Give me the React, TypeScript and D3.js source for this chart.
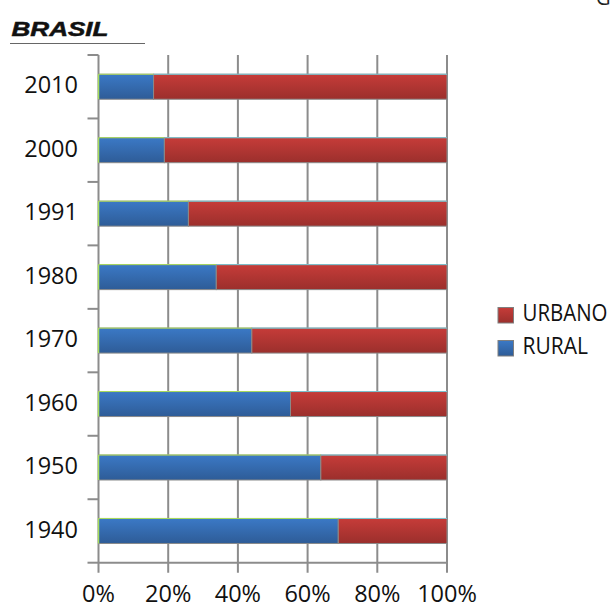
import React from 'react';
import * as d3 from 'd3';

// dados (% da população)
const years = ['2010', '2000', '1991', '1980', '1970', '1960', '1950', '1940'];
const rural = [15.8, 18.9, 25.8, 33.8, 44.0, 55.1, 63.8, 68.8];
const urbano = [84.2, 81.1, 74.2, 66.2, 56.0, 44.9, 36.2, 31.2];
const xTicks = [0, 20, 40, 60, 80, 100];
const legendItems = [
  { label: 'URBANO', grad: 'gradRed', len: 85 },
  { label: 'RURAL', grad: 'gradBlue', len: 65.5 },
];

const W = 614;
const H = 603;
const top = 55;
const bottom = 562.7;
const left = 98.5;
const right = 447;

const FONT = "'Open Sans', sans-serif";

export default function App() {
  const x = d3.scaleLinear().domain([0, 100]).range([left, right]);
  const y = d3.scaleBand().domain(years).range([top, bottom]).padding(0);
  const barH = 25;
  const gridColor = '#8c8c8c';

  const rows = years.map((yr, i) => {
    const cy = (y(yr) as number) + y.bandwidth() / 2;
    return { yr, cy, r: rural[i], u: urbano[i] };
  });

  return (
    <svg
      width={W}
      height={H}
      style={{ position: 'absolute', left: 0, top: 0, background: '#fff' }}
    >
      <defs>
        <linearGradient id="gradBlue" x1="0" y1="0" x2="0" y2="1">
          <stop offset="0" stopColor="#3b79c6" />
          <stop offset="1" stopColor="#2e5c97" />
        </linearGradient>
        <linearGradient id="gradRed" x1="0" y1="0" x2="0" y2="1">
          <stop offset="0" stopColor="#c63c39" />
          <stop offset="1" stopColor="#9b2f2c" />
        </linearGradient>
      </defs>

      {/* título */}
      <text x={11.5} y={36.3} fontFamily="'Liberation Sans', Arial, sans-serif" fontWeight="bold"
        fontStyle="italic" fontSize={20.5} textLength={97} lengthAdjust="spacingAndGlyphs"
        fill="#111" stroke="#111" strokeWidth={0.5}>
        BRASIL
      </text>
      <line x1={10} x2={145} y1={43.5} y2={43.5} stroke="#666" strokeWidth={1.2} />
      <text x={596} y={5} fontFamily={FONT} fontSize={20} fill="#222">G</text>

      {/* grade vertical */}
      {xTicks.map(t => (
        <g key={t}>
          <line x1={x(t)} x2={x(t)} y1={top} y2={bottom + 10} stroke={gridColor} strokeWidth={2} />
          <text x={x(t)} y={601.5} textAnchor="middle" fontFamily={FONT} fontSize={23.5} fill="#111">
            {t}%
          </text>
        </g>
      ))}

      {/* eixo */}
      <line x1={left} x2={right} y1={bottom} y2={bottom} stroke={gridColor} strokeWidth={2} />
      {[...years.map(yr => y(yr) as number), bottom].map((ty, i) => (
        <line key={i} x1={left - 11} x2={left} y1={ty} y2={ty} stroke={gridColor} strokeWidth={2} />
      ))}

      {/* barras */}
      {rows.map(d => (
        <g key={d.yr}>
          <rect x={x(0)} y={d.cy - barH / 2} width={x(d.r) - x(0)} height={barH}
            fill="url(#gradBlue)" stroke="#8a8a8a" strokeWidth={1} />
          <rect x={x(d.r)} y={d.cy - barH / 2} width={x(d.r + d.u) - x(d.r)} height={barH}
            fill="url(#gradRed)" stroke="#8a8a8a" strokeWidth={1} />
          <line x1={x(0)} x2={x(d.r)} y1={d.cy - barH / 2} y2={d.cy - barH / 2} stroke="#a8dc5c" strokeWidth={1} />
          <line x1={x(d.r)} x2={x(100)} y1={d.cy - barH / 2} y2={d.cy - barH / 2} stroke="#7cc3cf" strokeWidth={1} />
          <line x1={x(0)} x2={x(0)} y1={d.cy - barH / 2} y2={d.cy + barH / 2} stroke="#a8dc5c" strokeWidth={1.5} />
          <text x={78} y={d.cy + 6.6} textAnchor="end" fontFamily={FONT} fontSize={23.5} fill="#111">
            {d.yr}
          </text>
        </g>
      ))}

      {/* legenda */}
      {legendItems.map((it, i) => (
        <g key={it.label} transform={`translate(0,${i * 33})`}>
          <rect x={498} y={307.5} width={15.5} height={15.5} fill={`url(#${it.grad})`} stroke="#7f7f7f" strokeWidth={1} />
          <text x={522.5} y={320.7} fontFamily={FONT} fontSize={23} textLength={it.len}
            lengthAdjust="spacingAndGlyphs" fill="#111">
            {it.label}
          </text>
        </g>
      ))}
    </svg>
  );
}
